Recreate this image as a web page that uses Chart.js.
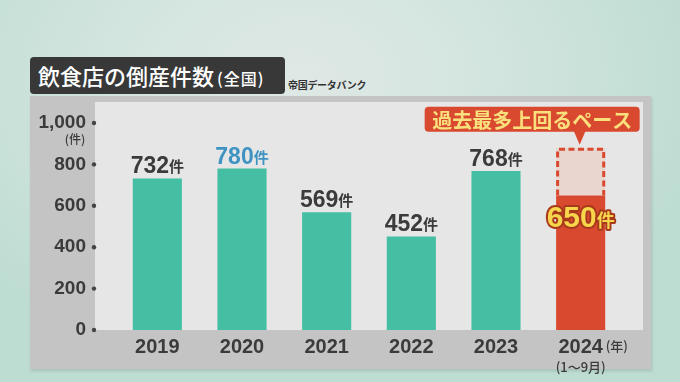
<!DOCTYPE html>
<html lang="ja">
<head>
<meta charset="utf-8">
<script src="https://cdn.jsdelivr.net/npm/chart.js@4.4.1/dist/chart.umd.min.js"></script>
<style>
  html,body{margin:0;padding:0;}
  body{width:680px;height:382px;overflow:hidden;position:relative;
    background:radial-gradient(ellipse 420px 300px at 300px 80px,#dfe8e5 0%,#d3e5df 45%,#bddcd2 100%);
    font-family:"Noto Sans CJK JP","Noto Sans",sans-serif;}
  #outer{position:absolute;left:30px;top:96px;width:621px;height:273px;background:#c4c4c4;
    box-shadow:1px 2px 3px rgba(0,0,0,0.12);}
  #inner{position:absolute;left:95px;top:102px;width:548px;height:228px;background:#e6e6e6;}
  #title{position:absolute;left:30px;top:57px;width:255px;height:37px;background:#383838;border-radius:4px;
    color:#fff;font-weight:500;font-size:22px;line-height:37px;white-space:nowrap;}
  #title span.main{position:absolute;left:8px;top:0;}
  #title span.sub{font-size:16px;margin-left:3px;letter-spacing:1px;}
  #source{position:absolute;left:288px;top:77px;font-size:10px;font-weight:700;color:#333;white-space:nowrap;letter-spacing:-0.3px;}
  canvas{position:absolute;left:0;top:0;}
</style>
</head>
<body>
<div id="outer"></div>
<div id="inner"></div>
<div id="title"><span class="main">飲食店の倒産件数<span class="sub">(全国)</span></span></div>
<div id="source">帝国データバンク</div>
<canvas id="c" width="680" height="382"></canvas>
<script>
// ---- data ----
const years = ['2019', '2020', '2021', '2022', '2023', '2024'];
const counts = [732, 780, 569, 452, 768, 650];
const paceTop = [null, null, null, null, null, 880];
const yTickValues = [0, 200, 400, 600, 800, 1000];
const unitLabel = '件';
const yUnit = '(件)';
const xUnit = '(年)';
const partialNote = '(1〜9月)';
const calloutText = '過去最多上回るペース';

const TEAL = '#45bfa4';
const RED = '#d9492f';
const DARK = '#3b3b3b';
const NUMFONT = '"Liberation Sans","Arial",sans-serif';
const JPFONT = '"Noto Sans CJK JP",sans-serif';

function roundRect(ctx, x, y, w, h, r) {
  ctx.beginPath();
  ctx.moveTo(x + r, y);
  ctx.lineTo(x + w - r, y);
  ctx.quadraticCurveTo(x + w, y, x + w, y + r);
  ctx.lineTo(x + w, y + h - r);
  ctx.quadraticCurveTo(x + w, y + h, x + w - r, y + h);
  ctx.lineTo(x + r, y + h);
  ctx.quadraticCurveTo(x, y + h, x, y + h - r);
  ctx.lineTo(x, y + r);
  ctx.quadraticCurveTo(x, y, x + r, y);
  ctx.closePath();
}

const overlay = {
  id: 'overlay',
  beforeDatasetsDraw(chart) {
    const ctx = chart.ctx, ys = chart.scales.y;
    const meta = chart.getDatasetMeta(0);
    ctx.save();
    paceTop.forEach((v, i) => {
      if (v == null) return;
      const bar = meta.data[i];
      const l = bar.x - bar.width / 2, r = bar.x + bar.width / 2;
      const t = ys.getPixelForValue(v), b = ys.getPixelForValue(counts[i]);
      ctx.fillStyle = '#e8d6cf';
      ctx.fillRect(l, t, r - l, b - t);
      ctx.strokeStyle = RED;
      ctx.lineWidth = 3;
      ctx.setLineDash([6, 3.5]);
      ctx.beginPath();
      ctx.moveTo(l + 1.5, b);
      ctx.lineTo(l + 1.5, t + 1.5);
      ctx.lineTo(r - 1.5, t + 1.5);
      ctx.lineTo(r - 1.5, b);
      ctx.stroke();
    });
    ctx.restore();
  },
  afterDatasetsDraw(chart) {
    const ctx = chart.ctx, ys = chart.scales.y, xs = chart.scales.x;
    const meta = chart.getDatasetMeta(0);
    ctx.save();
    // tick dots
    ctx.fillStyle = '#444';
    ys.ticks.forEach(t => {
      const py = ys.getPixelForValue(t.value);
      ctx.beginPath();
      ctx.arc(ys.right - 21, py, 2.2, 0, Math.PI * 2);
      ctx.fill();
    });
    // y unit
    ctx.fillStyle = DARK;
    ctx.font = '500 12px ' + JPFONT;
    ctx.textAlign = 'center';
    ctx.textBaseline = 'middle';
    ctx.fillText(yUnit, ys.right - 40, ys.getPixelForValue(ys.max) + 16);

    // value labels
    const last = counts.length - 1;
    counts.forEach((v, i) => {
      const bar = meta.data[i];
      const num = String(v);
      if (i === last) {
        ctx.font = 'bold 30px ' + NUMFONT;
        const w1 = ctx.measureText(num).width;
        ctx.font = 'bold 18px ' + JPFONT;
        const w2 = ctx.measureText(unitLabel).width;
        let sx = bar.x - (w1 + w2) / 2;
        const by = bar.y + 32;
        ctx.textAlign = 'left';
        ctx.textBaseline = 'alphabetic';
        ctx.lineJoin = 'round';
        ctx.strokeStyle = '#a8391d';
        ctx.lineWidth = 4;
        ctx.fillStyle = '#f7d64c';
        ctx.font = 'bold 30px ' + NUMFONT;
        ctx.strokeText(num, sx, by);
        ctx.fillText(num, sx, by);
        ctx.font = 'bold 18px ' + JPFONT;
        ctx.strokeText(unitLabel, sx + w1, by);
        ctx.fillText(unitLabel, sx + w1, by);
      } else {
        ctx.font = 'bold 23px ' + NUMFONT;
        const w1 = ctx.measureText(num).width;
        ctx.font = 'bold 15px ' + JPFONT;
        const w2 = ctx.measureText(unitLabel).width;
        const sx = bar.x - (w1 + w2) / 2;
        const by = bar.y - 5;
        ctx.fillStyle = i === 1 ? '#3e93c3' : DARK;
        ctx.textAlign = 'left';
        ctx.textBaseline = 'alphabetic';
        ctx.font = 'bold 23px ' + NUMFONT;
        ctx.fillText(num, sx, by);
        ctx.font = 'bold 15px ' + JPFONT;
        ctx.fillText(unitLabel, sx + w1, by - 1);
      }
    });

    // x extras for partial year
    const lb = meta.data[last];
    ctx.fillStyle = DARK;
    ctx.font = '500 13px ' + JPFONT;
    ctx.textAlign = 'left';
    ctx.textBaseline = 'middle';
    ctx.fillText(xUnit, lb.x + 25, xs.top + 16);
    ctx.textAlign = 'center';
    ctx.fillText(partialNote, lb.x, xs.top + 37);

    // callout
    paceTop.forEach((v, i) => {
      if (v == null) return;
      const bar = meta.data[i];
      const tp = ys.getPixelForValue(v);
      const right = bar.x + 59, width = 215;
      const top = tp - 41, h = 25;
      ctx.fillStyle = RED;
      roundRect(ctx, right - width, top, width, h, 4);
      ctx.fill();
      ctx.beginPath();
      ctx.moveTo(bar.x - 7, top + h - 1);
      ctx.lineTo(bar.x + 5, top + h - 1);
      ctx.lineTo(bar.x - 1, tp - 3);
      ctx.closePath();
      ctx.fill();
      ctx.fillStyle = '#f9e07c';
      ctx.font = 'bold 20px ' + JPFONT;
      ctx.textAlign = 'center';
      ctx.textBaseline = 'middle';
      ctx.fillText(calloutText, right - width / 2, top + h / 2 + 1);
    });
    ctx.restore();
  }
};

new Chart(document.getElementById('c'), {
  type: 'bar',
  data: {
    labels: years,
    datasets: [{
      data: counts,
      backgroundColor: ctx => ctx.dataIndex === counts.length - 1 ? RED : TEAL,
      borderWidth: 0,
      categoryPercentage: 1,
      barPercentage: 0.58
    }]
  },
  options: {
    responsive: false,
    devicePixelRatio: 1,
    animation: false,
    layout: { padding: { left: 0, right: 57, top: 123, bottom: 0 } },
    plugins: { legend: { display: false }, tooltip: { enabled: false } },
    scales: {
      x: {
        afterFit: s => { s.height = 52; },
        grid: { display: false, drawTicks: false },
        border: { display: false },
        ticks: { color: DARK, font: { family: NUMFONT, size: 20, weight: 'bold' }, padding: 5 }
      },
      y: {
        min: 0, max: 1000,
        afterFit: s => { s.width = 115; },
        afterBuildTicks: s => { s.ticks = yTickValues.map(v => ({ value: v })); },
        grid: { display: false, drawTicks: false },
        border: { display: false },
        ticks: {
          color: DARK, padding: 29,
          font: { family: NUMFONT, size: 19, weight: 'bold' },
          callback: v => v.toLocaleString('en-US')
        }
      }
    }
  },
  plugins: [overlay]
});
</script>
</body>
</html>
